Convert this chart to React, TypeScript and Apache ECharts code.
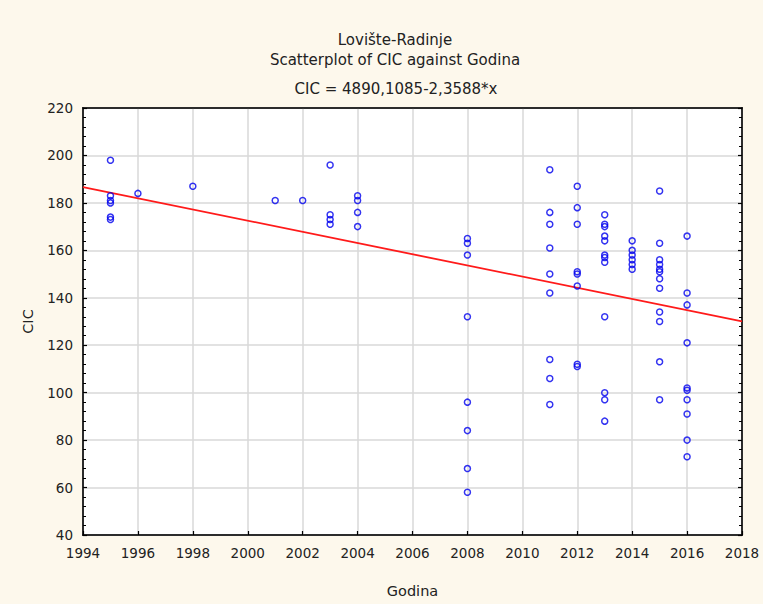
import React, { useEffect, useRef } from "react";
import * as echarts from "echarts";

const titleLines = ["Lovište-Radinje", "Scatterplot of CIC against Godina", "CIC = 4890,1085-2,3588*x"];
const xName = "Godina";
const yName = "CIC";

// regression coefficients shown in the title
const intercept = 4890.1085;
const slope = -2.3588;

const xMin = 1994;
const xMax = 2018;
const yMin = 40;
const yMax = 220;

// observations: year and CIC value (paired)
const godina = [
  1995, 1995, 1995, 1995, 1995, 1995,
  1996,
  1998,
  2001,
  2002,
  2003, 2003, 2003, 2003,
  2004, 2004, 2004, 2004,
  2008, 2008, 2008, 2008, 2008, 2008, 2008, 2008,
  2011, 2011, 2011, 2011, 2011, 2011, 2011, 2011, 2011,
  2012, 2012, 2012, 2012, 2012, 2012, 2012, 2012,
  2013, 2013, 2013, 2013, 2013, 2013, 2013, 2013, 2013, 2013, 2013, 2013,
  2014, 2014, 2014, 2014, 2014, 2014,
  2015, 2015, 2015, 2015, 2015, 2015, 2015, 2015, 2015, 2015, 2015, 2015,
  2016, 2016, 2016, 2016, 2016, 2016, 2016, 2016, 2016, 2016,
];
const cic = [
  198, 183, 181, 180, 174, 173,
  184,
  187,
  181,
  181,
  196, 175, 173, 171,
  183, 181, 176, 170,
  165, 163, 158, 132, 96, 84, 68, 58,
  194, 176, 171, 161, 150, 142, 114, 106, 95,
  187, 178, 171, 151, 150, 145, 112, 111,
  175, 171, 170, 166, 164, 158, 157, 155, 132, 100, 97, 88,
  164, 160, 158, 156, 154, 152,
  185, 163, 156, 154, 152, 151, 148, 144, 134, 130, 113, 97,
  166, 142, 137, 121, 102, 101, 97, 91, 80, 73,
];

export default function App() {
  const ref = useRef<HTMLDivElement>(null);
  useEffect(() => {
    if (!ref.current) return;
    const chart = echarts.init(ref.current, null, { renderer: "svg" });
    const font = "'DejaVu Sans', 'Liberation Sans', sans-serif";
    const textColor = "#222222";
    const points = godina.map((g, i) => [g, cic[i]]);
    const fitLine = [
      [xMin, intercept + slope * xMin],
      [xMax, intercept + slope * xMax],
    ];
    const axisCommon = {
      axisLine: { show: true, lineStyle: { color: "#000", width: 1.5 } },
      axisTick: { show: true, inside: true, length: 4, lineStyle: { color: "#000", width: 1.2 } },
      splitLine: { show: true, lineStyle: { color: "#d9d9d9", width: 1.5 } },
    };
    const titleStyle = { fontFamily: font, fontSize: 15, fontWeight: "normal", color: textColor };
    const labelStyle = { fontFamily: font, fontSize: 13.5, color: textColor };
    chart.setOption({
      animation: false,
      backgroundColor: "#fdf8ec",
      title: [
        { text: titleLines[0], left: 390, top: 27, textAlign: "center", textStyle: titleStyle },
        { text: titleLines[1], left: 390, top: 47, textAlign: "center", textStyle: titleStyle },
        { text: titleLines[2], left: 391, top: 76, textAlign: "center", textStyle: titleStyle },
      ],
      grid: {
        left: 83,
        top: 108,
        right: 21,
        bottom: 69,
        show: true,
        backgroundColor: "#ffffff",
        borderColor: "#000",
        borderWidth: 1.5,
      },
      xAxis: [
        {
          ...axisCommon,
          type: "value",
          min: xMin,
          max: xMax,
          interval: 2,
          name: xName,
          nameLocation: "middle",
          nameGap: 48,
          nameTextStyle: { fontFamily: font, fontSize: 14.5, color: textColor },
          axisLabel: {
            ...labelStyle,
            margin: 11,
            formatter: (v: number) => String(v),
          },
        },
        {
          ...axisCommon,
          type: "value",
          position: "top",
          min: xMin,
          max: xMax,
          interval: 2,
          axisLabel: { show: false },
          splitLine: { show: false },
          axisTick: { show: false },
        },
      ],
      yAxis: [
        {
          ...axisCommon,
          type: "value",
          min: yMin,
          max: yMax,
          interval: 20,
          name: yName,
          nameLocation: "middle",
          nameGap: 48,
          nameRotate: 90,
          nameTextStyle: { fontFamily: font, fontSize: 14.5, color: textColor },
          axisLabel: { ...labelStyle, margin: 10 },
          minorTick: { show: true, splitNumber: 5, length: 3, lineStyle: { color: "#000", width: 1 } },
        },
        {
          ...axisCommon,
          type: "value",
          position: "right",
          min: yMin,
          max: yMax,
          interval: 20,
          axisLabel: { show: false },
          splitLine: { show: false },
          minorTick: { show: true, splitNumber: 5, length: 3, lineStyle: { color: "#000", width: 1 } },
        },
      ],
      series: [
        {
          type: "line",
          data: fitLine,
          symbol: "none",
          lineStyle: { color: "#ff1a1a", width: 1.8 },
          z: 2,
        },
        {
          type: "scatter",
          data: points,
          symbol: "circle",
          symbolSize: 6,
          itemStyle: { color: "rgba(255,255,255,0)", borderColor: "#0000ee", borderWidth: 1.5 },
          z: 3,
        },
      ],
    });
    return () => chart.dispose();
  }, []);
  return (
    <div
      ref={ref}
      style={{ position: "fixed", left: 0, top: 0, width: 763, height: 604 }}
    />
  );
}
